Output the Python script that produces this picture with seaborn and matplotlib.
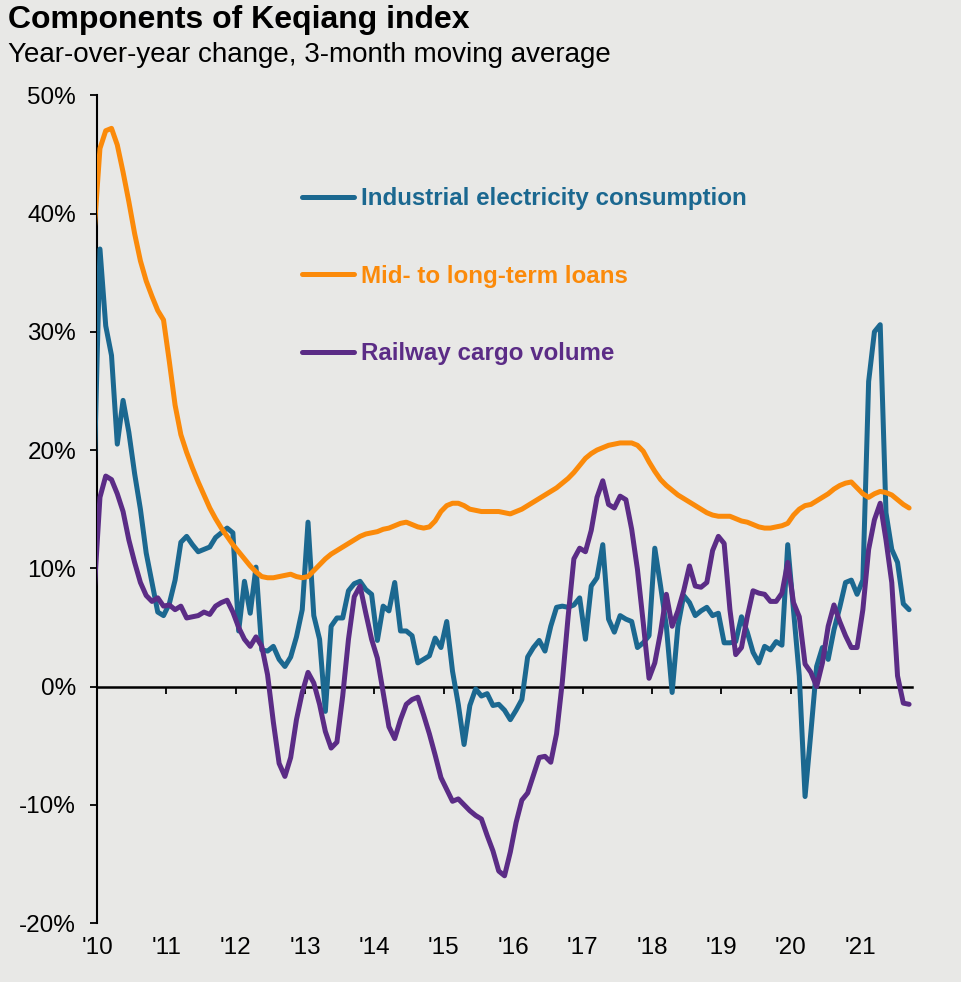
import numpy as np
import pandas as pd
import matplotlib
matplotlib.use("Agg")
import matplotlib.pyplot as plt
import seaborn as sns

# monthly, Dec 2009 .. Sep 2021 (the first point sits left of the axis and is clipped)
months = pd.date_range("2009-12-01", periods=142, freq="MS")

electricity = [
    18.0, 37.0, 30.5, 28.0, 20.5, 24.2, 21.5, 18.0, 15.0, 11.3, 8.8, 6.3,
    6.0, 7.0, 9.0, 12.2, 12.7, 12.0, 11.4, 11.6, 11.8, 12.6, 13.0, 13.4,
    13.0, 4.7, 8.9, 6.2, 10.1, 3.1, 3.0, 3.4, 2.3, 1.7, 2.5, 4.2,
    6.5, 13.9, 6.0, 4.0, -2.1, 5.1, 5.8, 5.8, 8.1, 8.7, 8.9, 8.2,
    7.8, 3.9, 6.8, 6.4, 8.8, 4.7, 4.7, 4.3, 2.0, 2.3, 2.6, 4.1,
    3.3, 5.5, 1.3, -1.5, -4.9, -1.6, -0.2, -0.8, -0.6, -1.6, -1.5, -2.0,
    -2.8, -2.0, -1.1, 2.5, 3.3, 3.9, 3.0, 5.1, 6.7, 6.8, 6.7, 6.9,
    7.5, 4.0, 8.5, 9.2, 12.0, 5.7, 4.6, 6.0, 5.7, 5.5, 3.3, 3.7,
    4.3, 11.7, 8.5, 5.1, -0.5, 5.1, 7.7, 7.1, 6.0, 6.4, 6.7, 6.0,
    6.2, 3.7, 3.7, 3.8, 5.9, 4.6, 2.9, 2.0, 3.4, 3.1, 3.8, 3.5,
    12.0, 6.5, 0.9, -9.3, -3.9, 1.7, 3.3, 2.3, 4.8, 6.7, 8.8, 9.0,
    7.8, 9.0, 25.8, 30.0, 30.6, 14.7, 11.6, 10.5, 7.0, 6.5,
]

loans = [
    38.5, 45.5, 47.0, 47.2, 45.8, 43.5, 41.0, 38.3, 36.0, 34.3, 33.0, 31.8,
    31.0, 27.5, 23.8, 21.3, 19.8, 18.5, 17.3, 16.2, 15.1, 14.2, 13.4, 12.7,
    12.0, 11.4, 10.8, 10.2, 9.7, 9.3, 9.2, 9.2, 9.3, 9.4, 9.5, 9.3,
    9.2, 9.3, 9.8, 10.3, 10.8, 11.2, 11.5, 11.8, 12.1, 12.4, 12.7, 12.9,
    13.0, 13.1, 13.3, 13.4, 13.6, 13.8, 13.9, 13.7, 13.5, 13.4, 13.5, 14.0,
    14.8, 15.3, 15.5, 15.5, 15.3, 15.0, 14.9, 14.8, 14.8, 14.8, 14.8, 14.7,
    14.6, 14.8, 15.0, 15.3, 15.6, 15.9, 16.2, 16.5, 16.8, 17.2, 17.6, 18.1,
    18.7, 19.3, 19.7, 20.0, 20.2, 20.4, 20.5, 20.6, 20.6, 20.6, 20.4, 19.9,
    19.0, 18.2, 17.5, 17.0, 16.6, 16.2, 15.9, 15.6, 15.3, 15.0, 14.7, 14.5,
    14.4, 14.4, 14.4, 14.2, 14.0, 13.9, 13.7, 13.5, 13.4, 13.4, 13.5, 13.6,
    13.8, 14.5, 15.0, 15.3, 15.4, 15.7, 16.0, 16.3, 16.7, 17.0, 17.2, 17.3,
    16.8, 16.3, 16.0, 16.3, 16.5, 16.4, 16.2, 15.8, 15.4, 15.1,
]

railway = [
    8.0, 16.0, 17.8, 17.5, 16.3, 14.8, 12.4, 10.5, 8.8, 7.7, 7.2, 7.5,
    6.8, 6.9, 6.5, 6.8, 5.8, 5.9, 6.0, 6.3, 6.1, 6.8, 7.1, 7.3,
    6.3, 5.0, 4.0, 3.4, 4.2, 3.4, 1.0, -3.0, -6.5, -7.6, -6.0, -2.8,
    -0.5, 1.2, 0.3, -1.5, -3.8, -5.2, -4.7, -0.8, 4.0, 7.6, 8.5, 6.2,
    4.0, 2.4, -0.5, -3.4, -4.4, -2.8, -1.5, -1.1, -0.9, -2.4, -4.0, -5.8,
    -7.7, -8.7, -9.7, -9.5, -10.0, -10.5, -10.9, -11.2, -12.6, -13.9, -15.6, -16.0,
    -14.0, -11.5, -9.6, -9.0, -7.5, -6.0, -5.9, -6.4, -4.0, 0.4, 5.9, 10.8,
    11.7, 11.4, 13.2, 16.0, 17.4, 15.4, 15.1, 16.1, 15.8, 13.3, 9.9, 5.4,
    0.7, 2.0, 4.6, 7.8, 5.1, 6.4, 8.1, 10.2, 8.5, 8.4, 8.8, 11.5,
    12.7, 12.1, 6.5, 2.7, 3.3, 5.9, 8.1, 7.9, 7.8, 7.2, 7.2, 7.9,
    10.5, 7.1, 5.9, 1.9, 1.2, 0.0, 2.0, 5.1, 6.9, 5.5, 4.3, 3.3,
    3.3, 6.5, 11.6, 14.1, 15.5, 12.4, 8.8, 0.9, -1.4, -1.5,
]

series_names = ["Industrial electricity consumption", "Mid- to long-term loans", "Railway cargo volume"]
colors = ["#1b6890", "#fb8a0a", "#5b2c86"]
year_ticks = list(range(2010, 2022))
year_labels = ["'" + str(y)[2:] for y in year_ticks]
pct_ticks = [-20, -10, 0, 10, 20, 30, 40, 50]

x = months.year + (months.month - 0.5) / 12
df = pd.DataFrame({"x": x,
                   series_names[0]: electricity,
                   series_names[1]: loans,
                   series_names[2]: railway})
df = df.melt(id_vars="x", var_name="series", value_name="value")

bg = "#e8e8e6"
sns.set_theme(style="white", rc={"axes.facecolor": bg, "figure.facecolor": bg,
                                 "text.color": "black", "xtick.color": "black",
                                 "ytick.color": "black", "axes.labelcolor": "black"})
plt.rcParams["font.family"] = ["Liberation Sans", "DejaVu Sans"]

fig = plt.figure(figsize=(9.61, 9.82), dpi=100)
ax = fig.add_axes([0.101, 0.060, 0.848, 0.843])

sns.lineplot(data=df, x="x", y="value", hue="series", palette=colors,
             linewidth=3.6, solid_capstyle="round", zorder=3, ax=ax)

ax.set_xlim(2010, 2021.75)
ax.set_ylim(-20, 50)
ax.set_xlabel("")
ax.set_ylabel("")

for s in ["top", "right"]:
    ax.spines[s].set_visible(False)
ax.spines["left"].set_color("black")
ax.spines["left"].set_linewidth(1.5)
ax.spines["bottom"].set_position(("data", 0))
ax.spines["bottom"].set_color("black")
ax.spines["bottom"].set_linewidth(1.8)

ax.set_yticks(pct_ticks, labels=[f"{v}%" for v in pct_ticks])
ax.tick_params(axis="y", direction="out", length=5, width=1.3, pad=10,
               labelsize=17.5, color="black", labelcolor="black", left=True)
ax.set_xticks(year_ticks)
ax.tick_params(axis="x", direction="out", length=5, width=1.3, color="black",
               bottom=True, labelbottom=False)

sec = ax.secondary_xaxis("bottom")
sec.set_xticks(year_ticks, labels=year_labels)
sec.tick_params(length=0, pad=10, labelsize=17.5, labelcolor="black")
sec.spines["bottom"].set_visible(False)

handles, labels = ax.get_legend_handles_labels()
ax.legend(handles, labels, loc="upper left", bbox_to_anchor=(0.225, 0.915),
          frameon=False, labelcolor="linecolor",
          prop={"weight": "bold", "size": 17.4},
          handlelength=2.15, handletextpad=0.3, labelspacing=2.25)

fig.text(8 / 961, 1 - 5 / 982, "Components of Keqiang index",
         fontsize=23, fontweight="bold", va="top", ha="left", color="black")
fig.text(8 / 961, 1 - 42 / 982, "Year-over-year change, 3-month moving average",
         fontsize=20, va="top", ha="left", color="black")

fig.savefig("out.png", dpi=100, facecolor=bg)
